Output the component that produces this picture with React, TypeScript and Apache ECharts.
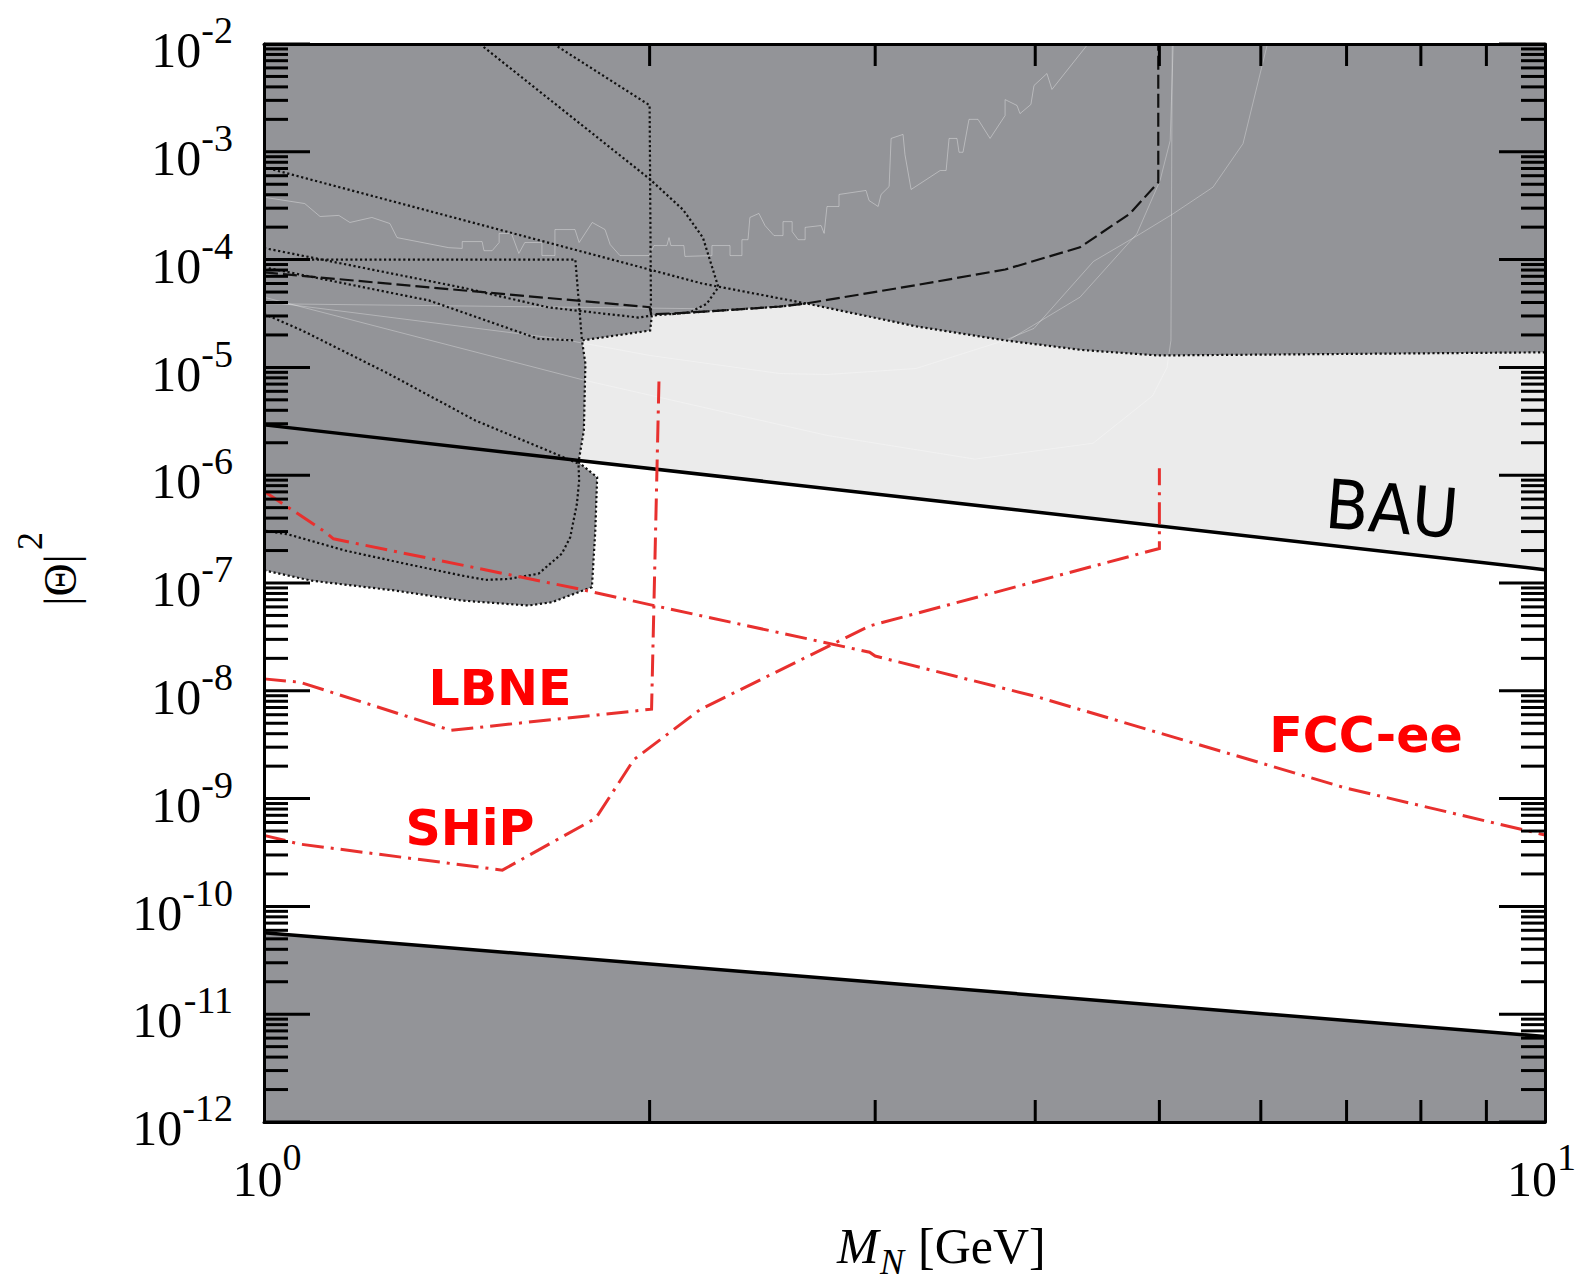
import React, { useEffect, useRef } from 'react';
import * as echarts from 'echarts';

// ---------- axes ----------
const massRange = [1, 10];
const mixingRange = [1e-12, 1e-2];

const yDecades = [1e-12, 1e-11, 1e-10, 1e-9, 1e-8, 1e-7, 1e-6, 1e-5, 1e-4, 1e-3, 1e-2];
const yDecadeExponents = ['-12', '-11', '-10', '-9', '-8', '-7', '-6', '-5', '-4', '-3', '-2'];
const minorMultipliers = [2, 3, 4, 5, 6, 7, 8, 9];
const xMinorTicks = [2, 3, 4, 5, 6, 7, 8, 9];
const xDecades = [1, 10];
const xDecadeExponents = ['0', '1'];

// ---------- regions ----------
const bauUpper = [[1, 2.93e-6], [10, 1.33e-7]];
const seesawLower = [[1, 5.7e-11], [10, 6.2e-12]];

const bauBand = [[1, 2.93e-6], [10, 1.33e-7], [10, 1e-2], [1, 1e-2]];
const seesawExcluded = [[1, 5.7e-11], [10, 6.2e-12], [10, 1e-12], [1, 1e-12]];

const excludedBoundary = [
  [10, 1.38e-5], [4.99, 1.29e-5], [4.35, 1.45e-5], [3.79, 1.78e-5], [3.23, 2.4e-5],
  [2.65, 3.92e-5], [2.53, 3.67e-5], [2.171, 3.25e-5], [2.008, 3.03e-5], [2.002, 2.2e-5],
  [1.771, 1.78e-5], [1.782, 1.08e-5], [1.777, 2.6e-6], [1.76, 1.32e-6], [1.82, 9.57e-7],
  [1.814, 3.07e-7], [1.803, 9.15e-8], [1.76, 8.22e-8], [1.678, 6.64e-8], [1.609, 6.18e-8],
  [1.428, 6.87e-8], [1.266, 8.51e-8], [1.09, 1.05e-7], [1, 1.31e-7],
];
const excludedRegion = [[1, 1e-2], [10, 1e-2], ...excludedBoundary];

// ---------- black dotted / dashed bounds ----------
const dottedA = [[1.683, 1e-2], [2.0, 2.7e-3], [2.005, 3.0e-5]];
const dottedB = [[1.474, 1e-2], [2.0, 5.6e-4], [2.124, 2.9e-4], [2.201, 1.6e-4], [2.263, 5.55e-5], [2.216, 3.89e-5], [2.151, 3.25e-5], [2.074, 3.1e-5]];
const dottedC = [[1, 7.2e-4], [2.198, 6.0e-5], [2.65, 3.92e-5]];
const dottedD = [[1, 1.28e-4], [1.428, 5.5e-5], [1.668, 3.6e-5], [1.961, 2.9e-5], [2.008, 3.03e-5]];
const dottedE = [[1, 8.49e-5], [1.345, 4.18e-5], [1.638, 1.84e-5], [1.75, 1.78e-5]];
const dottedBox = [[1, 1e-4], [1.75, 1e-4], [1.771, 1.78e-5]];
const dottedLoop = [
  [1, 3.14e-5], [1.071, 2.2e-5], [1.251, 8.73e-6], [1.462, 3.22e-6], [1.678, 1.63e-6], [1.76, 1.28e-6],
  [1.762, 8.9e-7], [1.755, 5.43e-7], [1.734, 2.66e-7], [1.708, 1.87e-7], [1.638, 1.22e-7], [1.552, 1.09e-7],
  [1.489, 1.07e-7], [1.428, 1.17e-7], [1.289, 1.51e-7], [1.157, 2.0e-7], [1.045, 2.82e-7], [1, 3.07e-7],
];
const dashedBound = [
  [1, 7.6e-5], [2.0, 3.62e-5], [2.006, 3.1e-5], [2.171, 3.25e-5], [2.53, 3.67e-5], [2.65, 3.92e-5],
  [3.23, 5.8e-5], [3.79, 8.1e-5], [4.335, 1.3e-4], [4.74, 2.66e-4], [4.99, 5.2e-4], [4.99, 1e-2],
];

// ---------- faint light lines ----------
const faintStair = [
  [1.0, 3.79e-4], [1.076, 3.31e-4], [1.106, 2.51e-4], [1.144, 2.57e-4], [1.167, 2.21e-4], [1.214, 2.46e-4],
  [1.254, 2.16e-4], [1.27, 1.6e-4], [1.394, 1.29e-4], [1.428, 1.27e-4], [1.428, 1.47e-4], [1.48, 1.47e-4],
  [1.485, 1.21e-4], [1.507, 1.21e-4], [1.526, 1.44e-4], [1.526, 1.75e-4], [1.56, 1.75e-4], [1.581, 1.14e-4],
  [1.598, 1.44e-4], [1.648, 1.44e-4], [1.648, 1.09e-4], [1.687, 1.09e-4], [1.687, 1.9e-4], [1.749, 1.9e-4],
  [1.762, 1.44e-4], [1.804, 2.21e-4], [1.846, 1.9e-4], [1.863, 1.38e-4], [1.896, 1.09e-4], [1.998, 1.09e-4],
  [2.016, 1.35e-4], [2.063, 1.35e-4], [2.071, 1.6e-4], [2.078, 1.35e-4], [2.127, 1.35e-4], [2.131, 1.07e-4],
  [2.237, 1.09e-4], [2.237, 1.35e-4], [2.311, 1.35e-4], [2.311, 1.09e-4], [2.361, 1.09e-4], [2.361, 1.53e-4],
  [2.387, 1.53e-4], [2.395, 2.46e-4], [2.434, 2.68e-4], [2.461, 2.07e-4], [2.501, 1.67e-4], [2.542, 1.67e-4],
  [2.542, 2.25e-4], [2.584, 2.25e-4], [2.584, 1.82e-4], [2.612, 1.53e-4], [2.645, 1.53e-4], [2.645, 1.99e-4],
  [2.722, 2.07e-4], [2.737, 1.75e-4], [2.751, 3.11e-4], [2.811, 3.11e-4], [2.811, 4.02e-4], [2.951, 4.38e-4],
  [2.967, 3.53e-4], [3.016, 3.11e-4], [3.032, 4.02e-4], [3.076, 4.76e-4], [3.087, 1.33e-3], [3.154, 1.45e-3],
  [3.165, 9.4e-4], [3.2, 4.47e-4], [3.372, 6.71e-4], [3.408, 6.71e-4], [3.426, 1.33e-3], [3.475, 1.33e-3],
  [3.488, 9.9e-4], [3.513, 9.9e-4], [3.551, 2.0e-3], [3.609, 2.0e-3], [3.688, 1.33e-3], [3.789, 2.17e-3],
  [3.789, 3.05e-3], [3.871, 2.69e-3], [3.892, 2.26e-3], [3.969, 2.75e-3], [3.991, 4.12e-3], [4.085, 5.32e-3],
  [4.122, 3.79e-3], [4.398, 1.0e-2],
];
const faintF1 = [[1, 4.48e-5], [1.781, 7.57e-6], [2.751, 2.34e-6], [3.589, 1.41e-6], [4.438, 1.98e-6], [4.939, 5.45e-6], [5.069, 9.97e-6], [5.105, 1.78e-5], [5.117, 1e-2]];
const faintF2 = [[1, 4.1e-5], [1.702, 1.84e-5], [2.001, 1.29e-5], [2.528, 8.77e-6], [2.751, 8.59e-6], [3.228, 9.77e-6], [3.786, 1.78e-5], [3.991, 2.3e-5], [4.441, 9.62e-5], [4.83, 1.73e-4], [5.125, 2.66e-4], [5.506, 4.7e-4], [5.811, 1.19e-3], [6.063, 9.34e-3], [6.072, 1e-2]];
const faintF3 = [[3.754, 1.6e-5], [4.335, 4.48e-5], [4.801, 1.73e-4], [5.006, 5.42e-4], [5.098, 1.27e-3], [5.125, 9.34e-3], [5.125, 1e-2]];
const faintG = [[1, 3.9e-5], [2.2, 3.5e-5]];

// ---------- future sensitivities (red) ----------
const lbne = [[1.0, 1.29e-8], [1.067, 1.2e-8], [1.399, 4.3e-9], [2.007, 6.75e-9], [2.034, 7.7e-6]];
const ship = [[1.0, 4.56e-10], [1.067, 3.78e-10], [1.535, 2.17e-10], [1.816, 6.6e-10], [1.944, 2.3e-9], [2.19, 6.7e-9], [2.97, 4.0e-8], [5.0, 2.09e-7], [5.0, 1.16e-6]];
const fccee = [[1.0, 7.1e-7], [1.117, 2.96e-7], [1.133, 2.57e-7], [1.76, 8.83e-8], [2.0, 6.3e-8], [2.97, 2.28e-8], [3.0, 2.1e-8], [4.0, 8.9e-9], [6.96, 1.27e-9], [10, 4.6e-10]];

// ---------- styles ----------
const DARK = '#939498';
const LIGHT = '#ebebeb';
const RED_LINE = '#e8302e';
const RED_TEXT = '#ff0000';
const SERIF = "'Liberation Serif', 'Times New Roman', serif";
const SANS = "'DejaVu Sans', Verdana, sans-serif";
const dashDot = [22, 7, 3, 7];
const DOTTED = [2.2, 2.6];
const CANVAS_W = 1577;
const CANVAS_H = 1282;

function polygonSeries(points: number[][], fill: string, z: number) {
  return {
    type: 'custom',
    coordinateSystem: 'cartesian2d',
    xAxisIndex: 0,
    yAxisIndex: 0,
    clip: true,
    silent: true,
    z,
    data: points,
    renderItem: (params: any, api: any) => {
      if (params.dataIndex !== 0) return null;
      return {
        type: 'polygon',
        shape: { points: points.map((p) => api.coord(p)) },
        style: { fill },
      };
    },
  };
}

function lineSeries(data: number[][], color: string, width: number, type: any, z: number, opacity = 1) {
  return {
    type: 'line',
    data,
    xAxisIndex: 0,
    yAxisIndex: 0,
    showSymbol: false,
    symbol: 'none',
    silent: true,
    clip: true,
    z,
    animation: false,
    lineStyle: { color, width, type, opacity, cap: 'butt', join: 'miter' },
    emphasis: { disabled: true },
  };
}

function expWidth(s: string, size: number) {
  let w = 0;
  for (const ch of s) w += ch === '-' ? 0.333 : 0.5;
  return w * size;
}

function buildOption() {
  const yMinor: number[][] = [];
  yDecades.slice(0, -1).forEach((d) => minorMultipliers.forEach((k) => yMinor.push([1, k * d])));

  const axisCommon = {
    type: 'log',
    logBase: 10,
    axisTick: { show: false },
    axisLabel: { show: false },
    splitLine: { show: false },
    axisLine: { show: true, onZero: false, lineStyle: { color: '#000', width: 3 } },
    z: 10,
  };

  const series: any[] = [
    polygonSeries(bauBand, LIGHT, 1),
    polygonSeries(excludedRegion, DARK, 2),
    polygonSeries(seesawExcluded, DARK, 2),
    lineSeries(faintStair, '#ffffff', 1, 'solid', 3, 0.35),
    lineSeries(faintF1, '#ffffff', 1, 'solid', 3, 0.3),
    lineSeries(faintF2, '#ffffff', 1, 'solid', 3, 0.3),
    lineSeries(faintF3, '#ffffff', 1, 'solid', 3, 0.3),
    lineSeries(faintG, '#ffffff', 1, 'solid', 3, 0.3),
    lineSeries(excludedBoundary, '#111', 2.2, DOTTED, 4),
    lineSeries(dottedA, '#111', 2.2, DOTTED, 4),
    lineSeries(dottedB, '#111', 2.2, DOTTED, 4),
    lineSeries(dottedC, '#111', 2.2, DOTTED, 4),
    lineSeries(dottedD, '#111', 2.2, DOTTED, 4),
    lineSeries(dottedE, '#111', 2.2, DOTTED, 4),
    lineSeries(dottedBox, '#111', 2.2, DOTTED, 4),
    lineSeries(dottedLoop, '#111', 2.2, DOTTED, 4),
    lineSeries(dashedBound, '#111', 2.2, [14, 5], 5),
    lineSeries(bauUpper, '#000', 3.5, 'solid', 6),
    lineSeries(seesawLower, '#000', 3.5, 'solid', 6),
    lineSeries(lbne, RED_LINE, 3, dashDot, 7),
    lineSeries(ship, RED_LINE, 3, dashDot, 7),
    lineSeries(fccee, RED_LINE, 3, dashDot, 7),
    // y ticks (major), left & right
    {
      type: 'custom', coordinateSystem: 'cartesian2d', clip: false, silent: true, z: 20,
      data: yDecades.map((v) => [1, v]),
      renderItem: (params: any, api: any) => {
        const v = api.value(1);
        const l = api.coord([massRange[0], v]);
        const r = api.coord([massRange[1], v]);
        return {
          type: 'group',
          children: [
            { type: 'line', shape: { x1: l[0], y1: l[1], x2: l[0] + 46, y2: l[1] }, style: { stroke: '#000', lineWidth: 3 } },
            { type: 'line', shape: { x1: r[0] - 46, y1: r[1], x2: r[0], y2: r[1] }, style: { stroke: '#000', lineWidth: 3 } },
          ],
        };
      },
    },
    // y ticks (minor), left & right
    {
      type: 'custom', coordinateSystem: 'cartesian2d', clip: false, silent: true, z: 20,
      data: yMinor,
      renderItem: (params: any, api: any) => {
        const v = api.value(1);
        const l = api.coord([massRange[0], v]);
        const r = api.coord([massRange[1], v]);
        return {
          type: 'group',
          children: [
            { type: 'line', shape: { x1: l[0], y1: l[1], x2: l[0] + 24, y2: l[1] }, style: { stroke: '#000', lineWidth: 3 } },
            { type: 'line', shape: { x1: r[0] - 24, y1: r[1], x2: r[0], y2: r[1] }, style: { stroke: '#000', lineWidth: 3 } },
          ],
        };
      },
    },
    // x ticks top & bottom
    {
      type: 'custom', coordinateSystem: 'cartesian2d', clip: false, silent: true, z: 20,
      data: xMinorTicks.map((m) => [m, mixingRange[0]]),
      renderItem: (params: any, api: any) => {
        const m = api.value(0);
        const b = api.coord([m, mixingRange[0]]);
        const t = api.coord([m, mixingRange[1]]);
        return {
          type: 'group',
          children: [
            { type: 'line', shape: { x1: b[0], y1: b[1], x2: b[0], y2: b[1] - 22 }, style: { stroke: '#000', lineWidth: 3 } },
            { type: 'line', shape: { x1: t[0], y1: t[1], x2: t[0], y2: t[1] + 22 }, style: { stroke: '#000', lineWidth: 3 } },
          ],
        };
      },
    },
    // y labels
    {
      type: 'custom', coordinateSystem: 'cartesian2d', clip: false, silent: true, z: 20,
      data: yDecades.map((v) => [1, v]),
      renderItem: (params: any, api: any) => {
        const v = api.value(1);
        const p = api.coord([massRange[0], v]);
        const e = yDecadeExponents[params.dataIndex];
        const ew = expWidth(e, 38);
        const xr = p[0] - 31;
        return {
          type: 'group',
          children: [
            { type: 'text', x: xr, y: p[1] - 1 - 0.3375 * 38, style: { text: e, fill: '#000', fontSize: 38, fontFamily: SERIF, align: 'right', verticalAlign: 'middle' } },
            { type: 'text', x: xr - ew, y: p[1] + 23 - 0.3375 * 50, style: { text: '10', fill: '#000', fontSize: 50, fontFamily: SERIF, align: 'right', verticalAlign: 'middle' } },
          ],
        };
      },
    },
    // x labels
    {
      type: 'custom', coordinateSystem: 'cartesian2d', clip: false, silent: true, z: 20,
      data: xDecades.map((m) => [m, mixingRange[0]]),
      renderItem: (params: any, api: any) => {
        const m = api.value(0);
        const p = api.coord([m, mixingRange[0]]);
        const e = xDecadeExponents[params.dataIndex];
        // keep the whole label inside the canvas
        const shift = Math.min(0, CANVAS_W - 1 - (p[0] + 18.5 + expWidth(e, 38)));
        return {
          type: 'group',
          children: [
            { type: 'text', x: p[0] - 31.5 + shift, y: p[1] + 74 - 0.3375 * 50, style: { text: '10', fill: '#000', fontSize: 50, fontFamily: SERIF, align: 'left', verticalAlign: 'middle' } },
            { type: 'text', x: p[0] + 18.5 + shift, y: p[1] + 48 - 0.3375 * 38, style: { text: e, fill: '#000', fontSize: 38, fontFamily: SERIF, align: 'left', verticalAlign: 'middle' } },
          ],
        };
      },
    },
  ];

  return {
    animation: false,
    backgroundColor: '#ffffff',
    grid: { left: 264, top: 44, width: 1281, height: 1078, containLabel: false },
    xAxis: [
      { ...axisCommon, min: massRange[0], max: massRange[1], position: 'bottom' },
      { ...axisCommon, min: massRange[0], max: massRange[1], position: 'top' },
    ],
    yAxis: [
      { ...axisCommon, min: mixingRange[0], max: mixingRange[1], position: 'left' },
      { ...axisCommon, min: mixingRange[0], max: mixingRange[1], position: 'right' },
    ],
    series,
    graphic: [
      { type: 'text', z: 100, x: 500, y: 688, style: { text: 'LBNE', fill: RED_TEXT, fontSize: 49, fontWeight: 'bold', fontFamily: SANS, align: 'center', verticalAlign: 'middle' } },
      { type: 'text', z: 100, x: 470, y: 828, style: { text: 'SHiP', fill: RED_TEXT, fontSize: 49, fontWeight: 'bold', fontFamily: SANS, align: 'center', verticalAlign: 'middle' } },
      { type: 'text', z: 100, x: 1366, y: 735, style: { text: 'FCC-ee', fill: RED_TEXT, fontSize: 49, fontWeight: 'bold', fontFamily: SANS, align: 'center', verticalAlign: 'middle' } },
      { type: 'text', z: 100, x: 1392, y: 509, rotation: -0.08, scaleX: 0.93, style: { text: 'BAU', fill: '#000', fontSize: 68, fontFamily: SANS, align: 'center', verticalAlign: 'middle' } },
      { type: 'text', z: 100, x: 837, y: 1263 - 0.3375 * 50, style: { text: 'M', fill: '#000', fontSize: 50, fontStyle: 'italic', fontFamily: SERIF, align: 'left', verticalAlign: 'middle' } },
      { type: 'text', z: 100, x: 880, y: Math.min(1274 - 0.3375 * 36, CANVAS_H - 19), style: { text: 'N', fill: '#000', fontSize: 36, fontStyle: 'italic', fontFamily: SERIF, align: 'left', verticalAlign: 'middle' } },
      { type: 'text', z: 100, x: 918, y: 1263 - 0.3375 * 50, style: { text: '[GeV]', fill: '#000', fontSize: 50, fontFamily: SERIF, align: 'left', verticalAlign: 'middle' } },
      { type: 'text', z: 100, x: 60, y: 580, rotation: Math.PI / 2, style: { text: '|Θ|', fill: '#000', fontSize: 46, fontFamily: SERIF, align: 'center', verticalAlign: 'middle' } },
      { type: 'text', z: 100, x: 30, y: 541, rotation: Math.PI / 2, style: { text: '2', fill: '#000', fontSize: 36, fontFamily: SERIF, align: 'center', verticalAlign: 'middle' } },
    ],
  };
}

export default function App() {
  const ref = useRef<HTMLDivElement>(null);
  useEffect(() => {
    document.body.style.margin = '0';
    if (!ref.current) return;
    const chart = echarts.init(ref.current, undefined, { renderer: 'svg' });
    chart.setOption(buildOption() as any);
    return () => chart.dispose();
  }, []);
  return <div ref={ref} style={{ width: CANVAS_W, height: CANVAS_H }} />;
}
